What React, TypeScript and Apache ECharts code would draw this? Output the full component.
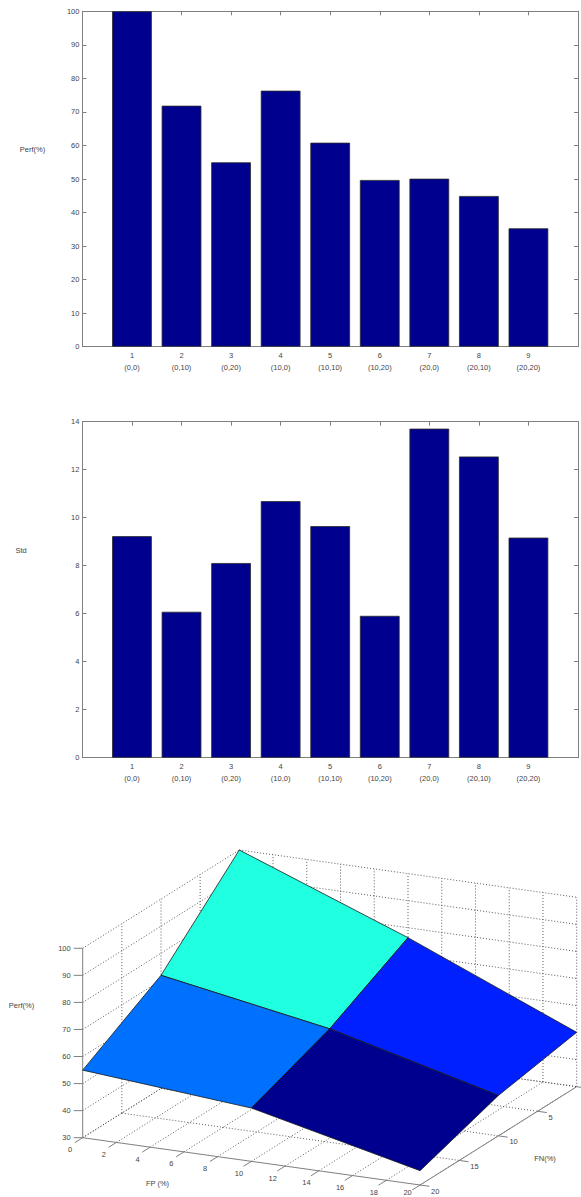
import React, { useEffect, useRef } from 'react';
import * as echarts from 'echarts';

// Test cases: index and (FP, FN) noise levels in percent
const caseIds = [1, 2, 3, 4, 5, 6, 7, 8, 9];
const noisePairs = ['(0,0)', '(0,10)', '(0,20)', '(10,0)', '(10,10)', '(10,20)', '(20,0)', '(20,10)', '(20,20)'];

// Mean performance (%) and its standard deviation per case
const perfValues = [100, 71.85, 54.97, 76.33, 60.82, 49.7, 50.09, 44.93, 35.3];
const stdValues = [9.23, 6.08, 8.11, 10.69, 9.65, 5.91, 13.71, 12.55, 9.17];

// Surface grid levels (perfValues is laid out FP-major, FN-minor)
const fpLevels = [0, 10, 20];
const fnLevels = [0, 10, 20];

// 3D axes ticks
const fpTicks = [0, 2, 4, 6, 8, 10, 12, 14, 16, 18, 20];
const fnTicks = [0, 5, 10, 15, 20];
const perfTicks = [30, 40, 50, 60, 70, 80, 90, 100];

const W = 581;
const H = 1197;
const FONT = 'Liberation Sans';
const TXT = '#444444';
const AXC = '#7f7f7f';
const FS = 7.5;

// Orthographic view of the 3D box: screen origin at (FP min, FN max, Perf min)
const view = {
  origin: [82.7, 1137.7],
  fpStep: [16.87, 2.365],
  fnStep: [-7.83, 4.915],
  zStep: [0, -2.706],
};
const fpMin = fpTicks[0];
const fpMax = fpTicks[fpTicks.length - 1];
const fnMin = fnTicks[0];
const fnMax = fnTicks[fnTicks.length - 1];
const zMin = perfTicks[0];
const zMax = perfTicks[perfTicks.length - 1];

function proj(fp: number, fn: number, z: number): number[] {
  const a = fp - fpMin;
  const b = fn - fnMax;
  const c = z - zMin;
  return [
    view.origin[0] + a * view.fpStep[0] + b * view.fnStep[0] + c * view.zStep[0],
    view.origin[1] + a * view.fpStep[1] + b * view.fnStep[1] + c * view.zStep[1],
  ];
}

// MATLAB-style 64-entry jet colormap
function jet64(k: number): string {
  const n = 16;
  const u: number[] = [];
  for (let i = 1; i <= n; i++) u.push(i / n);
  for (let i = 0; i < n - 1; i++) u.push(1);
  for (let i = n; i >= 1; i--) u.push(i / n);
  const g = k >= 9 && k <= 55 ? u[k - 9] : 0;
  const r = k >= 25 ? u[k - 25] : 0;
  const b = k <= 39 ? u[k + 7] : 0;
  const to = (v: number) => Math.round(v * 255);
  return `rgb(${to(r)},${to(g)},${to(b)})`;
}

function surfValue(i: number, j: number): number {
  return perfValues[i * fnLevels.length + j];
}

function surfColor(v: number): string {
  const lo = Math.min(...perfValues);
  const hi = Math.max(...perfValues);
  const k = Math.min(64, Math.floor(((v - lo) / (hi - lo)) * 64) + 1);
  return jet64(k);
}

function line(p: number[], q: number[], dotted: boolean): any {
  return {
    type: 'line',
    silent: true,
    z: 0,
    shape: { x1: p[0], y1: p[1], x2: q[0], y2: q[1] },
    style: dotted
      ? { stroke: '#4a4a4a', lineWidth: 0.9, lineDash: [1, 2] }
      : { stroke: AXC, lineWidth: 1 },
  };
}

function text(x: number, y: number, s: string, align = 'center', valign = 'middle'): any {
  return {
    type: 'text',
    silent: true,
    z: 5,
    x,
    y,
    style: {
      text: s,
      fill: TXT,
      fontSize: FS,
      fontFamily: FONT,
      textAlign: align,
      textVerticalAlign: valign,
    },
  };
}

function build3DFrame(): any[] {
  const els: any[] = [];
  // left wall (FP = min)
  perfTicks.forEach((z) => els.push(line(proj(fpMin, fnMax, z), proj(fpMin, fnMin, z), true)));
  fnTicks.filter((f) => f !== fnMax).forEach((f) => els.push(line(proj(fpMin, f, zMin), proj(fpMin, f, zMax), true)));
  // back wall (FN = min)
  perfTicks.forEach((z) => els.push(line(proj(fpMin, fnMin, z), proj(fpMax, fnMin, z), true)));
  fpTicks.forEach((f) => els.push(line(proj(f, fnMin, zMin), proj(f, fnMin, zMax), true)));
  // floor
  fpTicks.forEach((f) => els.push(line(proj(f, fnMax, zMin), proj(f, fnMin, zMin), true)));
  fnTicks.filter((f) => f !== fnMax).forEach((f) => els.push(line(proj(fpMin, f, zMin), proj(fpMax, f, zMin), true)));
  // solid axes
  els.push(line(proj(fpMin, fnMax, zMin), proj(fpMin, fnMax, zMax), false));
  els.push(line(proj(fpMin, fnMax, zMin), proj(fpMax, fnMax, zMin), false));
  els.push(line(proj(fpMax, fnMax, zMin), proj(fpMax, fnMin, zMin), false));
  // Perf ticks and labels
  perfTicks.forEach((z) => {
    const p = proj(fpMin, fnMax, z);
    els.push(line(p, [p[0] - 9, p[1]], false));
    els.push(text(p[0] - 12, p[1], String(z), 'right'));
  });
  // FP ticks and labels (kept inside the bottom edge)
  fpTicks.forEach((f) => {
    const p = proj(f, fnMax, zMin);
    els.push(line(p, proj(f, fnMax + 1, zMin), false));
    els.push(text(p[0] - 12.5, Math.min(p[1] + 12, H - 5), String(f)));
  });
  // FN ticks and labels
  fnTicks.forEach((f) => {
    const p = proj(fpMax, f, zMin);
    els.push(line(p, proj(fpMax + 0.55, f, zMin), false));
    if (p[0] + 11 + 6 < W) els.push(text(p[0] + 11, p[1] + 6, String(f), 'left'));
  });
  // axis titles
  els.push(text(21.5, 1005.7, 'Perf(%)'));
  els.push(text(157.5, 1183, 'FP (%)'));
  els.push(text(545, 1158, 'FN(%)'));
  // bar chart titles
  els.push(text(32.5, 149, 'Perf(%)'));
  els.push(text(21, 550, 'Std'));
  return els;
}

const axisFont = { fontSize: FS, fontFamily: FONT, color: TXT };

function barAxes(gridIndex: number, yMax: number, yInterval: number) {
  const xBottom = {
    type: 'value',
    gridIndex,
    position: 'bottom',
    min: 0,
    max: 10,
    interval: 1,
    axisLine: { onZero: false, lineStyle: { color: AXC, width: 1 } },
    axisTick: { inside: true, length: 4, lineStyle: { color: AXC } },
    splitLine: { show: false },
    axisLabel: {
      ...axisFont,
      margin: 3,
      lineHeight: 12,
      formatter: (v: number) => {
        const idx = caseIds.indexOf(v);
        return idx >= 0 ? `${caseIds[idx]}\n${noisePairs[idx]}` : '';
      },
    },
  };
  const xTop = {
    ...xBottom,
    position: 'top',
    axisLabel: { show: false },
  };
  const yLeft = {
    type: 'value',
    gridIndex,
    position: 'left',
    min: 0,
    max: yMax,
    interval: yInterval,
    axisLine: { show: true, onZero: false, lineStyle: { color: AXC, width: 1 } },
    axisTick: { show: true, inside: true, length: 4, lineStyle: { color: AXC } },
    splitLine: { show: false },
    axisLabel: { ...axisFont, margin: 3 },
  };
  const yRight = { ...yLeft, position: 'right', axisLabel: { show: false } };
  return { x: [xBottom, xTop], y: [yLeft, yRight] };
}

export default function App() {
  const ref = useRef<HTMLDivElement>(null);

  useEffect(() => {
    document.body.style.margin = '0';
    if (!ref.current) return;
    const chart = echarts.init(ref.current, undefined, { renderer: 'svg' });

    const a1 = barAxes(0, 100, 10);
    const a2 = barAxes(1, 14, 2);

    const cells: number[][] = [];
    for (let i = 0; i < fpLevels.length - 1; i++) {
      for (let j = 0; j < fnLevels.length - 1; j++) cells.push([i, j]);
    }

    const barStyle = { color: '#00008f', borderColor: '#2a2a2a', borderWidth: 0.8 };

    chart.setOption({
      animation: false,
      backgroundColor: '#ffffff',
      grid: [
        { left: 82.4, top: 11.3, width: 495.9, height: 335.4 },
        { left: 82.4, top: 421.7, width: 495.9, height: 336 },
      ],
      xAxis: [...a1.x, ...a2.x],
      yAxis: [...a1.y, ...a2.y],
      series: [
        {
          type: 'bar',
          xAxisIndex: 0,
          yAxisIndex: 0,
          barWidth: 39.7,
          itemStyle: barStyle,
          data: perfValues.map((v, i) => [caseIds[i], v]),
        },
        {
          type: 'bar',
          xAxisIndex: 2,
          yAxisIndex: 2,
          barWidth: 39.7,
          itemStyle: barStyle,
          data: stdValues.map((v, i) => [caseIds[i], v]),
        },
        {
          type: 'custom',
          coordinateSystem: 'none',
          z: 3,
          silent: true,
          data: cells,
          renderItem: (_params: any, api: any) => {
            const i = api.value(0);
            const j = api.value(1);
            const pts = [
              proj(fpLevels[i], fnLevels[j], surfValue(i, j)),
              proj(fpLevels[i + 1], fnLevels[j], surfValue(i + 1, j)),
              proj(fpLevels[i + 1], fnLevels[j + 1], surfValue(i + 1, j + 1)),
              proj(fpLevels[i], fnLevels[j + 1], surfValue(i, j + 1)),
            ];
            return {
              type: 'polygon',
              shape: { points: pts },
              style: { fill: surfColor(surfValue(i + 1, j + 1)), stroke: '#1a1a1a', lineWidth: 0.8 },
            };
          },
        },
      ],
      graphic: build3DFrame(),
    });

    return () => chart.dispose();
  }, []);

  return <div ref={ref} style={{ width: W, height: H }} />;
}
